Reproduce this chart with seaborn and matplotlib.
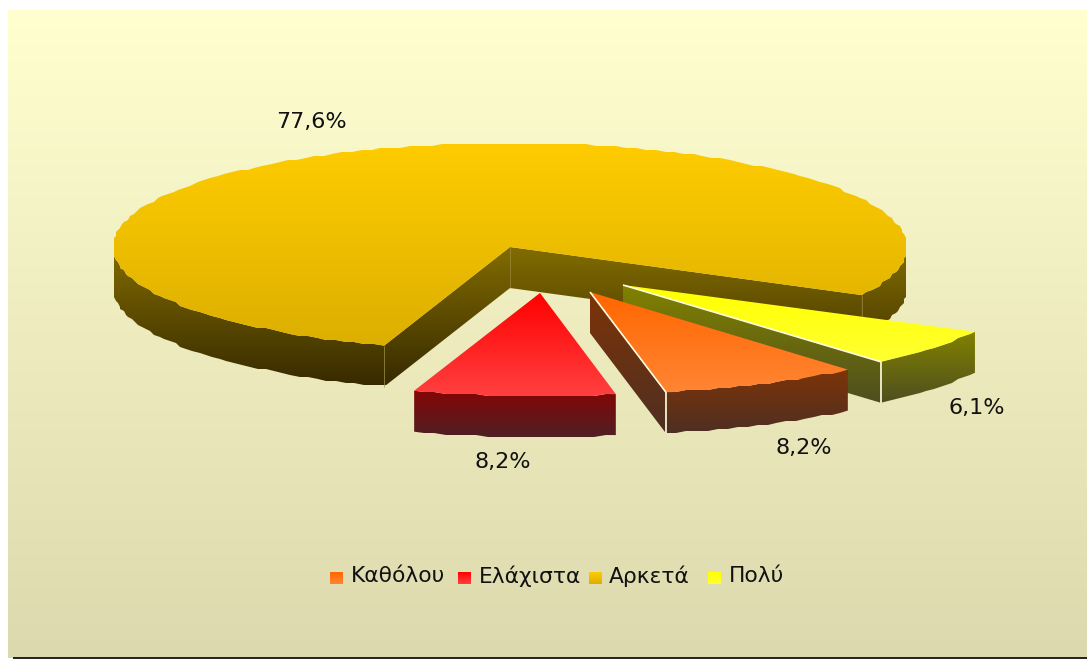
import numpy as np
import matplotlib
matplotlib.use('Agg')
import matplotlib.pyplot as plt
import seaborn as sns
from matplotlib.patches import Polygon

categories = ['Καθόλου', 'Ελάχιστα', 'Αρκετά', 'Πολύ']
values = [8.2, 8.2, 77.6, 6.1]

# layout in pixels
W, H = 1087, 659
RX, DEPTH = 397, 41
START = -49.5
centers = [(590, 292), (540, 293), (510, 247), (623, 285)]
radii_y = [102, 103, 104, 101]
label_pos = [(804, 448), (503, 462), (311, 122), (977, 408)]
legend_box_x = [330, 458, 589, 708]
legend_text_x = [351, 479, 609, 729]

# (top start, top end), (side start, side end)
top_colors = [('#FF6600', '#FF8533'), ('#FF0000', '#FF4040'), ('#FFCC00', '#DCAF00'), ('#FFFF00', '#FFFF33')]
side_colors = [('#7E3408', '#4E2F22'), ('#850606', '#4F1F24'), ('#826C00', '#372A00'), ('#828200', '#4E4E20')]

sns.set_theme(style='white')
plt.rcParams['font.family'] = ['DejaVu Sans']

fig = plt.figure(figsize=(W / 100, H / 100), dpi=100)
ax = fig.add_axes([0, 0, 1, 1])
ax.set_xlim(0, W)
ax.set_ylim(H, 0)
ax.axis('off')


def grad_fill(verts, colors, y0=None, y1=None, z=2):
    verts = np.asarray(verts)
    x0, x1 = verts[:, 0].min(), verts[:, 0].max()
    y0 = verts[:, 1].min() if y0 is None else y0
    y1 = verts[:, 1].max() if y1 is None else y1
    cmap = sns.blend_palette(colors, 64, as_cmap=True)
    grad = np.linspace(0, 1, 256)[:, None]
    im = ax.imshow(grad, cmap=cmap, extent=(x0 - 1, x1 + 1, y1, y0), aspect='auto', zorder=z,
                   interpolation='bilinear')
    im.set_clip_path(Polygon(verts, closed=True, transform=ax.transData))


def rim(center, ry, a0, a1, step=1.5):
    n = max(int(abs(a1 - a0) / step), 1)
    ang = np.radians(np.linspace(a0, a1, n + 1))
    x = center[0] + RX * np.cos(ang)
    y = center[1] - ry * np.sin(ang)
    # the original has a stepped edge
    xs = np.round(x / 2) * 2
    ys = np.round(y / 2) * 2
    xs[0], xs[-1] = x[0], x[-1]
    ys[0], ys[-1] = y[0], y[-1]
    return np.column_stack([xs, ys])


def wall(pts):
    pts = np.asarray(pts)
    return np.vstack([pts, pts[::-1] + [0, DEPTH]])


def edge(pts, color='#FFFFE0', lw=1.2, z=2, alpha=1.0):
    pts = np.asarray(pts)
    ax.plot(pts[:, 0], pts[:, 1], color=color, lw=lw, zorder=z, alpha=alpha, solid_capstyle='butt')


# background
bg = sns.blend_palette(['#FFFFD0', '#DDD9AE'], 64, as_cmap=True)
ax.imshow(np.linspace(0, 1, 256)[:, None], cmap=bg, extent=(8, W, 658, 10), aspect='auto', zorder=0)
ax.hlines(658, 13, W, color='black', lw=1.2, zorder=1)

spans = 360 * np.array(values) / sum(values)
ends = START - np.cumsum(spans)
starts = ends + spans

# slice order on screen: back one first
order = [2, 3, 0, 1]
for z, i in enumerate(order, start=2):
    c, ry = centers[i], radii_y[i]
    arc = rim(c, ry, starts[i], ends[i])
    top = np.vstack([[c], arc])
    if i == 2:
        # big slice: the rim wall shows on both ends, inner walls go to the centre
        low = arc[:, 1] >= c[1]
        split = np.argmin(low)
        left = arc[:split]
        right = arc[split:][low[split:]]
        for part in (left, right):
            grad_fill(wall(part), side_colors[i], 247, 385, z)
        grad_fill(wall([c, arc[0]]), side_colors[i], 247, 385, z)
        grad_fill(wall([c, arc[-1]]), side_colors[i], 247, 385, z)
        grad_fill(top, top_colors[i], z=z)
        for p in (c, arc[0], arc[-1]):
            edge([p, (p[0], p[1] + DEPTH)], color='#9A8A40', lw=0.7, z=z, alpha=0.7)
    else:
        grad_fill(wall(arc), side_colors[i], z=z)
        if i != 1:
            # edge facing the viewer, from the tip to the rim
            corner = arc[-1]
            grad_fill(wall([c, corner]), side_colors[i], z=z)
            grad_fill(top, top_colors[i], z=z)
            edge([c, corner], z=z)
            edge([corner, (corner[0], corner[1] + DEPTH)], z=z)
        else:
            grad_fill(top, top_colors[i], z=z)

# labels
for v, (x, y) in zip(values, label_pos):
    ax.text(x, y, f'{v:.1f}%'.replace('.', ','), fontsize=16, color='#111111',
            ha='center', va='center', zorder=10)

# legend
for i, name in enumerate(categories):
    bx = legend_box_x[i]
    grad_fill([(bx, 572), (bx + 12.5, 572), (bx + 12.5, 584), (bx, 584)], top_colors[i], z=10)
    ax.text(legend_text_x[i], 576, name, fontsize=15.7, color='#111111', ha='left', va='center', zorder=10)

ax.set_xlim(0, W)
ax.set_ylim(H, 0)
fig.savefig('out.png', dpi=100, facecolor='white')
